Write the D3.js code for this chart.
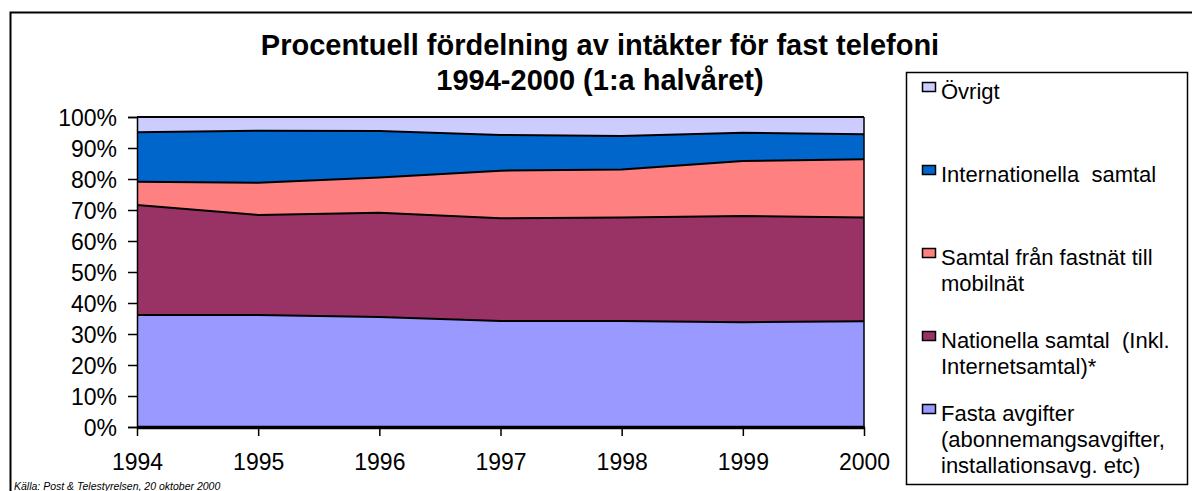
<!DOCTYPE html>
<html>
<head>
<meta charset="utf-8">
<script src="https://cdn.jsdelivr.net/npm/d3@7"></script>
<style>
  html, body { margin: 0; padding: 0; background: #fff; }
  svg { display: block; font-family: "Liberation Sans", Arial, sans-serif; }
</style>
</head>
<body>
<div id="chart"></div>
<script>
// Data (percent of revenue, stacked bottom -> top)
const years = [1994, 1995, 1996, 1997, 1998, 1999, 2000];
const fastaAvgifter = [36.1, 36.1, 35.5, 34.2, 34.2, 33.8, 34.1];
const nationellaSamtal = [35.5, 32.3, 33.6, 33.1, 33.4, 34.3, 33.5];
const fastTillMobil = [7.5, 10.4, 11.4, 15.4, 15.5, 17.7, 18.8];
const internationella = [16.0, 16.8, 15.0, 11.5, 10.8, 9.1, 8.0];
const ovrigt = [4.9, 4.4, 4.5, 5.8, 6.1, 5.1, 5.6];

const seriesKeys = ['fasta', 'nationella', 'mobil', 'internationella', 'ovrigt'];
const seriesColors = ['#9999FF', '#993366', '#FF8080', '#0066CC', '#CCCCFF'];
const yTicks = [0, 10, 20, 30, 40, 50, 60, 70, 80, 90, 100];

// Legend order top -> bottom, each label split into lines
const legendItems = [
  { key: 'ovrigt', lines: ['Övrigt'] },
  { key: 'internationella', lines: ['Internationella  samtal'] },
  { key: 'mobil', lines: ['Samtal från fastnät till', 'mobilnät'] },
  { key: 'nationella', lines: ['Nationella samtal  (Inkl.', 'Internetsamtal)*'] },
  { key: 'fasta', lines: ['Fasta avgifter', '(abonnemangsavgifter,', 'installationsavg. etc)'] }
];

const titleLines = ['Procentuell fördelning av intäkter för fast telefoni', '1994-2000 (1:a halvåret)'];
const sourceText = 'Källa: Post & Telestyrelsen, 20 oktober 2000';

const width = 1192, height = 491;
const plot = { left: 137, right: 864, top: 117, bottom: 427 };

const svg = d3.select('#chart').append('svg')
  .attr('width', width)
  .attr('height', height);

// Outer chart frame (runs off the right and bottom edges like the reference)
svg.append('rect')
  .attr('x', 10.5).attr('y', 12.5)
  .attr('width', 1200).attr('height', 500)
  .attr('fill', '#fff')
  .attr('stroke', '#000')
  .attr('stroke-width', 2);

// Title
svg.append('text')
  .attr('x', 600).attr('y', 55)
  .attr('text-anchor', 'middle')
  .attr('font-size', 29).attr('font-weight', 'bold')
  .selectAll('tspan')
  .data(titleLines)
  .join('tspan')
  .attr('x', 600)
  .attr('dy', (d, i) => i === 0 ? 0 : 35)
  .text(d => d);

const x = d3.scalePoint().domain(years).range([plot.left, plot.right]);
const y = d3.scaleLinear().domain([0, 100]).range([plot.bottom, plot.top]);

const rows = years.map((yr, i) => ({
  year: yr,
  fasta: fastaAvgifter[i],
  nationella: nationellaSamtal[i],
  mobil: fastTillMobil[i],
  internationella: internationella[i],
  ovrigt: ovrigt[i]
}));

// Normalise to 100% (expand offset, like Excel's 100% stacked area)
const stacked = d3.stack().keys(seriesKeys).offset(d3.stackOffsetExpand)(rows);
const yPct = d3.scaleLinear().domain([0, 1]).range([plot.bottom, plot.top]);

const area = d3.area()
  .x(d => x(d.data.year))
  .y0(d => yPct(d[0]))
  .y1(d => yPct(d[1]));

const topLine = d3.line()
  .x(d => x(d.data.year))
  .y(d => yPct(d[1]));

const g = svg.append('g');

g.selectAll('path.area')
  .data(stacked)
  .join('path')
  .attr('class', 'area')
  .attr('fill', (d, i) => seriesColors[i])
  .attr('d', area);

g.selectAll('path.edge')
  .data(stacked)
  .join('path')
  .attr('class', 'edge')
  .attr('fill', 'none')
  .attr('stroke', '#000')
  .attr('stroke-width', 2)
  .attr('d', topLine);

// Right edge at 2000
g.append('line')
  .attr('x1', plot.right).attr('x2', plot.right)
  .attr('y1', plot.top).attr('y2', plot.bottom)
  .attr('stroke', '#000').attr('stroke-width', 1.5);

// Y axis
const yAxis = svg.append('g')
  .attr('transform', `translate(${plot.left},0)`)
  .call(d3.axisLeft(y).tickValues(yTicks).tickFormat(d => d + '%').tickSize(9).tickPadding(11));
yAxis.select('.domain').attr('stroke', '#000').attr('stroke-width', 1.5);
yAxis.selectAll('.tick line').attr('stroke', '#000').attr('stroke-width', 1.5);
yAxis.selectAll('.tick text')
  .attr('font-size', 23)
  .attr('fill', '#000')
  .attr('font-family', '"Liberation Sans", Arial, sans-serif')
  .attr('dy', '0.36em');

// X axis
const xAxis = svg.append('g')
  .attr('transform', `translate(0,${plot.bottom})`)
  .call(d3.axisBottom(x).tickSize(9).tickPadding(18).tickSizeOuter(0));
xAxis.select('.domain').attr('stroke', '#000').attr('stroke-width', 3.5);
xAxis.selectAll('.tick line').attr('stroke', '#000').attr('stroke-width', 1.5);
xAxis.selectAll('.tick text')
  .attr('font-size', 23)
  .attr('fill', '#000')
  .attr('font-family', '"Liberation Sans", Arial, sans-serif');

// Legend
const legend = svg.append('g');
legend.append('rect')
  .attr('x', 906.5).attr('y', 72.5)
  .attr('width', 281).attr('height', 412)
  .attr('fill', '#fff')
  .attr('stroke', '#000')
  .attr('stroke-width', 1.5);

const legendY = [91, 174, 257, 340, 413];
const lineH = 26;
const colorOf = key => seriesColors[seriesKeys.indexOf(key)];

legendItems.forEach((item, i) => {
  const gy = legendY[i];
  legend.append('rect')
    .attr('x', 922.5).attr('y', gy - 8.5)
    .attr('width', 13).attr('height', 9)
    .attr('fill', colorOf(item.key))
    .attr('stroke', '#000')
    .attr('stroke-width', 1.5);
  legend.append('text')
    .attr('font-size', 22)
    .attr('fill', '#000')
    .attr('xml:space', 'preserve')
    .style('white-space', 'pre')
    .selectAll('tspan')
    .data(item.lines)
    .join('tspan')
    .attr('x', 941)
    .attr('y', (d, j) => gy + 7.5 + j * lineH)
    .text(d => d);
});

// Source note
svg.append('text')
  .attr('x', 14).attr('y', 490)
  .attr('font-size', 10.5)
  .attr('font-style', 'italic')
  .attr('fill', '#000')
  .text(sourceText);
</script>
</body>
</html>
